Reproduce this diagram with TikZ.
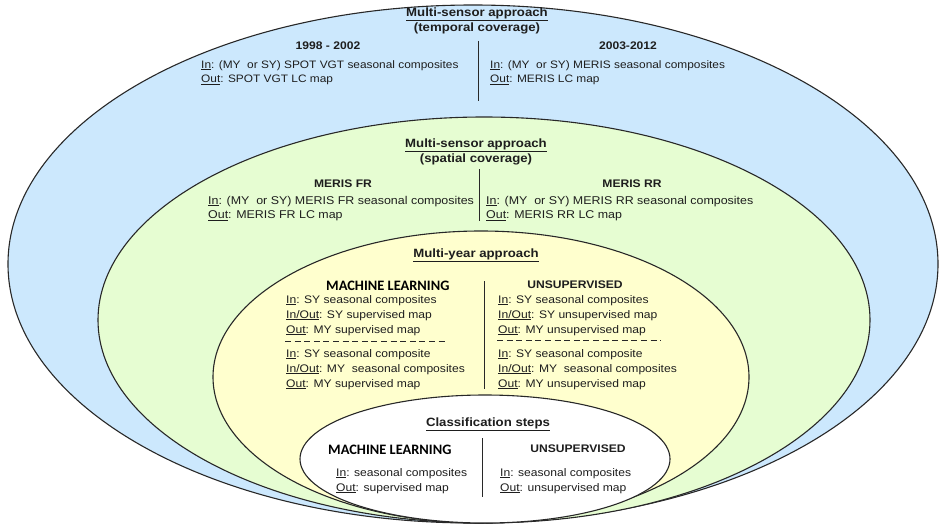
\documentclass[tikz,border=0pt]{standalone}
\usepackage{fontspec}
\setmainfont{Liberation Sans}
\newfontfamily\bodyfont[FakeStretch=1.1]{Liberation Sans}
\newfontfamily\headfont{Carlito}
\usetikzlibrary{positioning}
\definecolor{SkyFill}{RGB}{204,232,253}
\definecolor{LimeFill}{RGB}{230,253,210}
\definecolor{CreamFill}{RGB}{255,255,206}
\definecolor{Ink}{RGB}{40,40,40}
\definecolor{TextInk}{RGB}{30,30,30}
\newcommand{\undl}[1]{\underline{#1}}
\tikzset{
  ring/.style={draw=Ink,line width=1.1pt},
  divider/.style={draw=Ink,line width=1pt},
  dashsep/.style={draw=Ink,line width=1pt,dash pattern=on 6pt off 3.6pt},
  title/.style={font=\bodyfont\bfseries\fontsize{12}{15}\selectfont,align=center,inner sep=0pt,text=TextInk},
  period/.style={font=\bodyfont\bfseries\fontsize{11}{14}\selectfont,anchor=base,inner sep=0pt,text=TextInk},
  io/.style={font=\bodyfont\fontsize{11.3}{14.5}\selectfont,align=left,anchor=north west,inner sep=0pt,text=TextInk},
  iotop/.style={io,font=\bodyfont\fontsize{10.8}{14.5}\selectfont},
  iostep/.style={io,font=\bodyfont\fontsize{11}{15}\selectfont},
  method/.style={font=\headfont\bfseries\fontsize{14.4}{16}\selectfont,anchor=base west,inner sep=0pt,text=black},
  unsup/.style={font=\bodyfont\bfseries\fontsize{11}{14}\selectfont,anchor=base,inner sep=0pt,text=TextInk}
}
\begin{document}
\begin{tikzpicture}[x=1pt,y=-1pt]
  \useasboundingbox (0,0) rectangle (940,527);
  \draw[ring,fill=SkyFill] (473,264) ellipse [x radius=465pt,y radius=259pt];
  \draw[ring,fill=LimeFill] (484,320) ellipse [x radius=386pt,y radius=203pt];
  \draw[ring,fill=CreamFill] (481,377) ellipse [x radius=268pt,y radius=146pt];
  \draw[ring,fill=white] (485,459) ellipse [x radius=185pt,y radius=64pt];
  % temporal coverage
  \node[title,anchor=north] (tempTitle) at (477,7.7) {\undl{Multi-sensor approach}\\(temporal coverage)};
  \node[period] (yrsEarly) at (328,50) {1998 - 2002};
  \node[period] (yrsLate) at (628,50) {2003-2012};
  \node[iotop] (vgtIO) at (201,60) {\undl{In}: (MY\ \ or SY) SPOT VGT seasonal composites\\\undl{Out}: SPOT VGT LC map};
  \node[iotop] (merisIO) at (490,60) {\undl{In}: (MY\ \ or SY) MERIS seasonal composites\\\undl{Out}: MERIS LC map};
  \draw[divider] (478,41) -- (478,101);
  % spatial coverage
  \node[title,anchor=north] (spatTitle) at (476,138.7) {\undl{Multi-sensor approach}\\(spatial coverage)};
  \node[period] (frHead) at (343,187.5) {MERIS FR};
  \node[period] (rrHead) at (632,187.5) {MERIS RR};
  \node[io] (frIO) at (208,195.8) {\undl{In}: (MY\ \ or SY) MERIS FR seasonal composites\\\undl{Out}: MERIS FR LC map};
  \node[io] (rrIO) at (486,195.8) {\undl{In}: (MY\ \ or SY) MERIS RR seasonal composites\\\undl{Out}: MERIS RR LC map};
  \draw[divider] (479,169) -- (479,221);
  % multi-year
  \node[title,anchor=base] (myTitle) at (476,257) {\undl{Multi-year approach}};
  \node[method] (mlHead) at (326,290) {MACHINE LEARNING};
  \node[unsup] (unHead) at (575,288) {UNSUPERVISED};
  \node[iostep] (mlIOa) at (286,295) {\undl{In}: SY seasonal composites\\\undl{In/Out}: SY supervised map\\\undl{Out}: MY supervised map};
  \node[iostep] (mlIOb) at (286,349) {\undl{In}: SY seasonal composite\\\undl{In/Out}: MY\ \ seasonal composites\\\undl{Out}: MY supervised map};
  \node[iostep] (unIOa) at (498,295) {\undl{In}: SY seasonal composites\\\undl{In/Out}: SY unsupervised map\\\undl{Out}: MY unsupervised map};
  \node[iostep] (unIOb) at (498,349) {\undl{In}: SY seasonal composite\\\undl{In/Out}: MY\ \ seasonal composites\\\undl{Out}: MY unsupervised map};
  \draw[dashsep] (285,341.5) -- (448,341.5);
  \draw[dashsep] (497,340) -- (661,340);
  \draw[divider] (484,281) -- (484,389);
  % classification steps
  \node[title,anchor=base] (clsTitle) at (488,426.5) {\undl{Classification steps}};
  \node[method] (clsML) at (328,454) {MACHINE LEARNING};
  \node[unsup] (clsUN) at (578,452) {UNSUPERVISED};
  \node[iostep] (clsMLio) at (336,468) {\undl{In}: seasonal composites\\\undl{Out}: supervised map};
  \node[iostep] (clsUNio) at (500,468) {\undl{In}: seasonal composites\\\undl{Out}: unsupervised map};
  \draw[divider] (482,438) -- (482,497);
\end{tikzpicture}
\end{document}
